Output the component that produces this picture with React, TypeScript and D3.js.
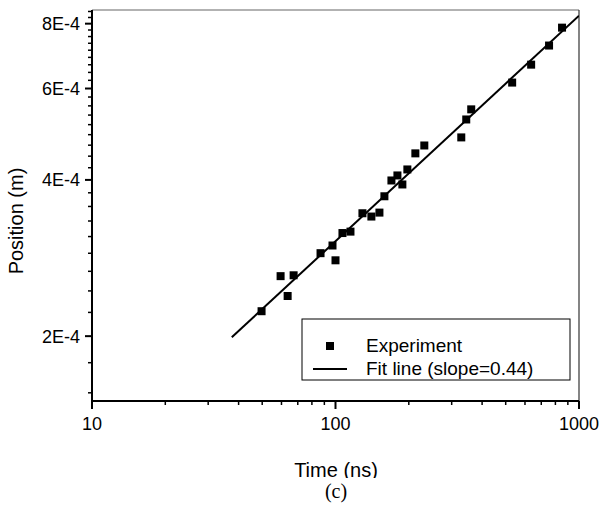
import * as d3 from "d3";

// experiment points
const timeNs = [49.7, 59.5, 63.6, 67.3, 86.8, 97.2, 100, 106.8, 115.2, 129, 140.4, 151.5, 158.8, 169.7, 179.6, 188.2, 197.3, 212.8, 231.6, 328.5, 344.3, 360.9, 531.5, 636, 753.4, 851.8];
const position = [2.234e-4, 2.61e-4, 2.39e-4, 2.62e-4, 2.89e-4, 2.99e-4, 2.8e-4, 3.16e-4, 3.18e-4, 3.45e-4, 3.4e-4, 3.46e-4, 3.72e-4, 3.99e-4, 4.08e-4, 3.92e-4, 4.19e-4, 4.5e-4, 4.66e-4, 4.83e-4, 5.23e-4, 5.47e-4, 6.16e-4, 6.67e-4, 7.26e-4, 7.86e-4];

// fit line end points
const fitTime = [37.5, 1000];
const fitPos = [1.99e-4, 8.29e-4];

const xTicks = [10, 100, 1000];
const xTickLabels = ["10", "100", "1000"];
const yTicks = [2e-4, 4e-4, 6e-4, 8e-4];
const yTickLabels = ["2E-4", "4E-4", "6E-4", "8E-4"];

const font = "'Liberation Sans', Arial, sans-serif";

const App = () => {
  const x = d3.scaleLog().domain([10, 1000]).range([92, 579]);
  const y = d3.scaleLog().domain([1.5e-4, 8.5e-4]).range([401, 10]);

  const xMinor: number[] = [];
  [10, 100].forEach((d) => {
    for (let k = 2; k <= 9; k++) xMinor.push(d * k);
  });
  // 8 minor ticks between the linear major steps
  const step = 2e-4 / 9;
  const yMinor: number[] = [];
  for (let v = 2e-4 - step * 2; v <= 8.5e-4 + 1e-12; v += step) {
    if (v >= 1.5e-4 && !yTicks.some((t) => Math.abs(t - v) < 1e-9)) yMinor.push(v);
  }

  const fitLine = d3.line<number>()
    .x((d) => x(d))
    .y((_, i) => y(fitPos[i]));

  const [x0, x1] = x.range();
  const [y0, y1] = y.range();

  return (
    <svg width={600} height={512} style={{ position: "absolute", left: 0, top: 0, background: "#fff" }} fontFamily={font}>
      <defs>
        <clipPath id="plot">
          <rect x={x0} y={y1} width={x1 - x0} height={y0 - y1} />
        </clipPath>
        <clipPath id="titleclip">
          <rect x={0} y={0} width={600} height={478} />
        </clipPath>
      </defs>

      {/* frame */}
      <line x1={x0} x2={x1} y1={y1} y2={y1} stroke="#666" strokeWidth={1.2} />
      <line x1={x1} x2={x1} y1={y1} y2={y0} stroke="#333" strokeWidth={1.2} />

      {/* fit */}
      <path d={fitLine(fitTime) ?? ""} fill="none" stroke="#000" strokeWidth={2} clipPath="url(#plot)" />

      {/* points */}
      {timeNs.map((t, i) => (
        <rect key={i} x={x(t) - 4} y={y(position[i]) - 4} width={8} height={8} fill="#000" />
      ))}

      {/* axes */}
      <line x1={x0} x2={x1} y1={y0} y2={y0} stroke="#000" strokeWidth={2} />
      <line x1={x0} x2={x0} y1={y1} y2={y0 + 1} stroke="#000" strokeWidth={2} />

      {xTicks.map((t, i) => (
        <g key={t}>
          <line x1={x(t)} x2={x(t)} y1={y0} y2={y0 + 8} stroke="#000" strokeWidth={2} />
          <text x={x(t)} y={y0 + 29} textAnchor="middle" fontSize={18}>{xTickLabels[i]}</text>
        </g>
      ))}
      {xMinor.map((t) => (
        <line key={t} x1={x(t)} x2={x(t)} y1={y0} y2={y0 + 4} stroke="#000" strokeWidth={1.5} />
      ))}

      {yTicks.map((t, i) => (
        <g key={t}>
          <line x1={x0} x2={x0 - 7} y1={y(t)} y2={y(t)} stroke="#000" strokeWidth={2} />
          <text x={x0 - 12} y={y(t) + 6.5} textAnchor="end" fontSize={18}>{yTickLabels[i]}</text>
        </g>
      ))}
      {yMinor.map((t) => (
        <line key={t} x1={x0} x2={x0 - 4} y1={y(t)} y2={y(t)} stroke="#000" strokeWidth={1.5} />
      ))}

      {/* titles */}
      <text x={336} y={477} textAnchor="middle" fontSize={20} clipPath="url(#titleclip)">Time (ns)</text>
      <text transform="translate(23,221) rotate(-90)" textAnchor="middle" fontSize={20}>Position (m)</text>
      <text x={336} y={498} textAnchor="middle" fontSize={20} fontFamily="'Liberation Serif', 'Times New Roman', serif">(c)</text>

      {/* legend */}
      <rect x={302} y={319} width={268} height={61} fill="#fff" stroke="#000" strokeWidth={1} />
      <rect x={326} y={342} width={8} height={8} fill="#000" />
      <line x1={313} x2={347} y1={369} y2={369} stroke="#000" strokeWidth={2} />
      <text x={366} y={352} fontSize={19}>Experiment</text>
      <text x={366} y={375} fontSize={19}>Fit line (slope=0.44)</text>
    </svg>
  );
};

export default App;
